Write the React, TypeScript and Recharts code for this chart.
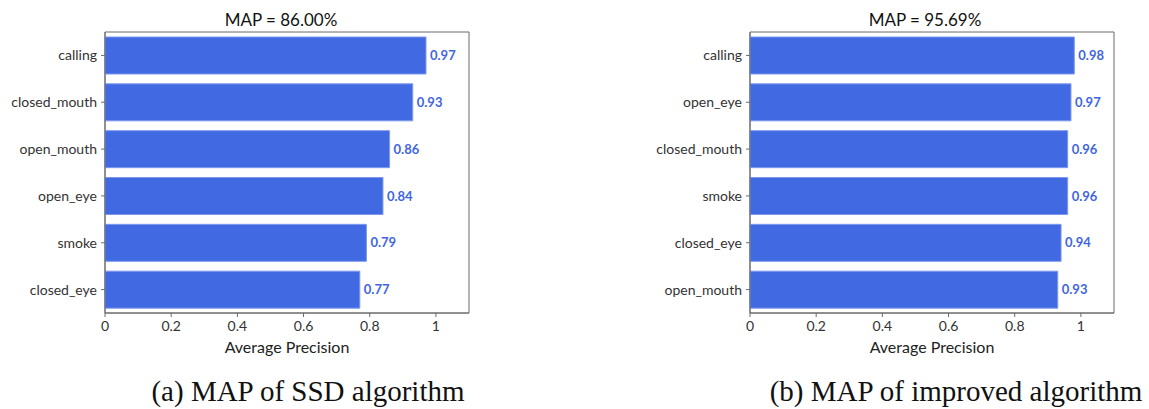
import React from 'react';
import { BarChart, Bar, XAxis, YAxis, LabelList, Label, ReferenceArea } from 'recharts';

const ssdLabels = ['calling', 'closed_mouth', 'open_mouth', 'open_eye', 'smoke', 'closed_eye'];
const ssdValues = [0.97, 0.93, 0.86, 0.84, 0.79, 0.77];

const improvedLabels = ['calling', 'open_eye', 'closed_mouth', 'smoke', 'closed_eye', 'open_mouth'];
const improvedValues = [0.98, 0.97, 0.96, 0.96, 0.94, 0.93];

const xTicks = [0, 0.2, 0.4, 0.6, 0.8, 1];

const BAR = '#4169e1';
const SPINE = '#6b6b6b';
const SANS = 'Lato, "Open Sans", sans-serif';

interface PanelProps {
  labels: string[];
  values: number[];
  title: string;
  caption: string;
  left: number;
  titleX: number;
  captionX: number;
}

function Panel({ labels, values, title, caption, left, titleX, captionX }: PanelProps) {
  const data = labels.map((name, i) => ({ name, ap: values[i] }));
  return (
    <>
      <div
        style={{
          position: 'absolute',
          left: titleX - 100,
          width: 200,
          top: 9,
          textAlign: 'center',
          fontFamily: SANS,
          fontSize: 17,
          lineHeight: '22px',
          color: '#111',
        }}
      >
        {title}
      </div>
      <div style={{ position: 'absolute', left, top: 0 }}>
        <BarChart
          width={480}
          height={357}
          data={data}
          layout="vertical"
          margin={{ top: 32, right: 11, bottom: 4, left: 0 }}
          barSize={37}
        >
          <XAxis
            type="number"
            domain={[0, 1.1]}
            ticks={xTicks}
            tickFormatter={(v: number) => String(v)}
            height={40}
            tickSize={4}
            tickMargin={4}
            tick={{ fontFamily: SANS, fontSize: 14, fill: '#333' }}
            axisLine={{ stroke: SPINE }}
            tickLine={{ stroke: SPINE }}
          >
            <Label
              value="Average Precision"
              position="insideBottom"
              offset={0}
              style={{ fontFamily: SANS, fontSize: 16, fill: '#222' }}
            />
          </XAxis>
          <YAxis
            type="category"
            dataKey="name"
            width={105}
            tickSize={4}
            tickMargin={4}
            tick={{ fontFamily: SANS, fontSize: 14, fill: '#333' }}
            axisLine={{ stroke: SPINE }}
            tickLine={{ stroke: SPINE }}
          />
          <ReferenceArea x1={0} x2={1.1} fill="none" stroke={SPINE} strokeWidth={1} ifOverflow="visible" />
          <Bar dataKey="ap" fill={BAR} stroke="#7d98ee" strokeWidth={1} isAnimationActive={false}>
            <LabelList
              dataKey="ap"
              position="right"
              offset={4}
              formatter={(v: number) => v.toFixed(2)}
              style={{ fontFamily: SANS, fontSize: 13, fontWeight: 700, fill: '#3f66e0' }}
            />
          </Bar>
        </BarChart>
      </div>
      <div
        style={{
          position: 'absolute',
          left: captionX - 250,
          width: 500,
          top: 374,
          textAlign: 'center',
          fontFamily: '"Liberation Serif", "Times New Roman", serif',
          fontSize: 29,
          lineHeight: '34px',
          color: '#111',
        }}
      >
        {caption}
      </div>
    </>
  );
}

export default function App() {
  return (
    <div style={{ position: 'absolute', left: 0, top: 0, width: 1149, height: 409, background: '#fff', overflow: 'hidden' }}>
      <Panel
        labels={ssdLabels}
        values={ssdValues}
        title="MAP = 86.00%"
        caption="(a) MAP of SSD algorithm"
        left={0}
        titleX={281}
        captionX={308}
      />
      <Panel
        labels={improvedLabels}
        values={improvedValues}
        title="MAP = 95.69%"
        caption="(b) MAP of improved algorithm"
        left={645}
        titleX={925}
        captionX={956}
      />
    </div>
  );
}
